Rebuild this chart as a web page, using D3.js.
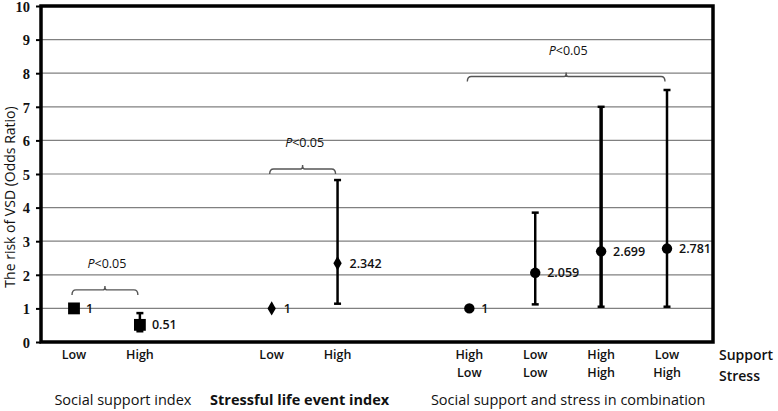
<!DOCTYPE html>
<html>
<head>
<meta charset="utf-8">
<script src="https://cdn.jsdelivr.net/npm/d3@7"></script>
<style>
  body { margin: 0; background: #fff; }
  svg text { font-family: "Open Sans", "Noto Sans", sans-serif; fill: #111; }
</style>
</head>
<body>
<div id="chart"></div>
<script>
// data
let keys = ['ssLow', 'ssHigh', 'gap1', 'slLow', 'slHigh', 'gap2', 'cHL', 'cLL', 'cHH', 'cLH'];
let pointKeys = ['ssLow', 'ssHigh', 'slLow', 'slHigh', 'cHL', 'cLL', 'cHH', 'cLH'];
let oddsRatio = [1, 0.51, 1, 2.342, 1, 2.059, 2.699, 2.781];
let ciLow = [null, 0.32, null, 1.14, null, 1.12, 1.05, 1.05];
let ciHigh = [null, 0.86, null, 4.82, null, 3.85, 7.0, 7.5];
let valueLabels = ['1', '0.51', '1', '2.342', '1', '2.059', '2.699', '2.781'];
let markers = ['square', 'square', 'diamond', 'diamond', 'circle', 'circle', 'circle', 'circle'];
let tickTop = ['Low', 'High', 'Low', 'High', 'High', 'Low', 'High', 'Low'];
let tickBottom = ['', '', '', '', 'Low', 'Low', 'High', 'High'];
let yTicks = [0, 1, 2, 3, 4, 5, 6, 7, 8, 9, 10];

// significance brackets: from key, to key, height (in odds ratio units)
let bracketFrom = ['ssLow', 'slLow', 'cHL'];
let bracketTo = ['ssHigh', 'slHigh', 'cLH'];
let bracketLevel = [1.55, 5.15, 7.9];

let groupTitles = ['Social support index', 'Stressful life event index', 'Social support and stress in combination'];
let groupFirst = ['ssLow', 'slLow', 'cHL'];
let groupLast = ['ssHigh', 'slHigh', 'cLH'];

let width = 778, height = 411;
let plotLeft = 41, plotRight = 713, plotTop = 6, plotBottom = 342;

let svg = d3.select('#chart').append('svg')
  .attr('width', width)
  .attr('height', height);

let x = d3.scalePoint().domain(keys).range([74, 667]);
let y = d3.scaleLinear().domain([0, 10]).range([plotBottom, plotTop]);

// gridlines
svg.append('g')
  .selectAll('line')
  .data(yTicks.slice(1, -1))
  .join('line')
  .attr('x1', plotLeft).attr('x2', plotRight)
  .attr('y1', d => y(d)).attr('y2', d => y(d))
  .attr('stroke', '#808080')
  .attr('stroke-width', 1.2);

// left axis
let yAxis = svg.append('g')
  .attr('transform', `translate(${plotLeft},0)`)
  .call(d3.axisLeft(y).tickValues(yTicks).tickSize(5).tickPadding(6))
  .attr('font-size', 14.5)
  .attr('font-family', '"Liberation Serif", serif');
yAxis.select('.domain').remove();
yAxis.selectAll('line').attr('stroke', '#000').attr('stroke-width', 2);
yAxis.selectAll('text')
  .style('font-family', '"Liberation Serif", serif')
  .style('font-weight', 'bold')
  .style('font-size', '14.5px')
  .attr('dy', '0.36em');

// plot frame
svg.append('rect')
  .attr('x', plotLeft).attr('y', plotTop)
  .attr('width', plotRight - plotLeft).attr('height', plotBottom - plotTop)
  .attr('fill', 'none')
  .attr('stroke', '#000')
  .attr('stroke-width', 3.5);

// error bars
let bars = pointKeys.map((k, i) => ({ k, lo: ciLow[i], hi: ciHigh[i] })).filter(d => d.lo !== null);
let eb = svg.append('g');
eb.selectAll('line.v').data(bars).join('line')
  .attr('class', 'v')
  .attr('x1', d => x(d.k)).attr('x2', d => x(d.k))
  .attr('y1', d => y(d.lo)).attr('y2', d => y(d.hi))
  .attr('stroke', '#000')
  .attr('stroke-width', d => d.k === 'cHH' ? 3.5 : 2.5);
['lo', 'hi'].forEach(end => {
  eb.selectAll('line.' + end).data(bars).join('line')
    .attr('class', end)
    .attr('x1', d => x(d.k) - 3.5).attr('x2', d => x(d.k) + 3.5)
    .attr('y1', d => y(d[end])).attr('y2', d => y(d[end]))
    .attr('stroke', '#000')
    .attr('stroke-width', 2.5);
});

// markers
let symbolType = { square: d3.symbolSquare, diamond: d3.symbolDiamond, circle: d3.symbolCircle };
let symbolSize = { square: 140, diamond: 60, circle: 85 };
svg.append('g')
  .selectAll('path')
  .data(pointKeys)
  .join('path')
  .attr('transform', (k, i) => `translate(${x(k)},${y(oddsRatio[i])})`)
  .attr('d', (k, i) => d3.symbol().type(symbolType[markers[i]]).size(symbolSize[markers[i]])())
  .attr('fill', '#000');

// value labels
svg.append('g')
  .selectAll('text')
  .data(pointKeys)
  .join('text')
  .attr('x', k => x(k) + 12)
  .attr('y', (k, i) => y(oddsRatio[i]) + 4.5)
  .style('font-size', '12.5px')
  .style('font-weight', 600)
  .text((k, i) => valueLabels[i]);

// brackets and P values
bracketFrom.forEach((f, i) => {
  let x0 = x(f) - 2, x1 = x(bracketTo[i]) - 2, yb = y(bracketLevel[i]), xm = (x0 + x1) / 2;
  svg.append('path')
    .attr('d', `M${x0},${yb + 5} Q${x0},${yb} ${x0 + 4},${yb} L${xm - 2},${yb} Q${xm},${yb} ${xm},${yb - 4} Q${xm},${yb} ${xm + 2},${yb} L${x1 - 4},${yb} Q${x1},${yb} ${x1},${yb + 5}`)
    .attr('fill', 'none')
    .attr('stroke', '#555')
    .attr('stroke-width', 1.4);
  let t = svg.append('text')
    .attr('x', xm + 2)
    .attr('y', yb - 22)
    .attr('text-anchor', 'middle')
    .style('font-size', '12.5px');
  t.append('tspan').style('font-style', 'italic').text('P');
  t.append('tspan').text('<0.05');
});

// x tick labels
let tl = svg.append('g').style('font-size', '12.5px').style('font-weight', 600).attr('text-anchor', 'middle');
tl.selectAll('text.t').data(pointKeys).join('text')
  .attr('class', 't')
  .attr('x', k => x(k)).attr('y', 359)
  .text((k, i) => tickTop[i]);
tl.selectAll('text.b').data(pointKeys).join('text')
  .attr('class', 'b')
  .attr('x', k => x(k)).attr('y', 377)
  .text((k, i) => tickBottom[i]);

svg.append('text').attr('x', 719).attr('y', 360).style('font-size', '14px').style('font-weight', 600).text('Support');
svg.append('text').attr('x', 719).attr('y', 381).style('font-size', '14px').style('font-weight', 600).text('Stress');

// group titles
svg.append('g')
  .selectAll('text')
  .data(groupTitles)
  .join('text')
  .attr('x', (d, i) => (x(groupFirst[i]) + x(groupLast[i])) / 2 + (i === 0 ? 16 : i === 1 ? -5 : 0))
  .attr('y', 405)
  .attr('text-anchor', 'middle')
  .style('font-size', '14.5px')
  .style('font-weight', (d, i) => i === 1 ? 'bold' : 500)
  .text(d => d);

// y axis title
svg.append('text')
  .attr('transform', 'translate(15,197) rotate(-90)')
  .attr('text-anchor', 'middle')
  .style('font-size', '14px')
  .style('font-weight', 500)
  .text('The risk of VSD (Odds Ratio)');
</script>
</body>
</html>
